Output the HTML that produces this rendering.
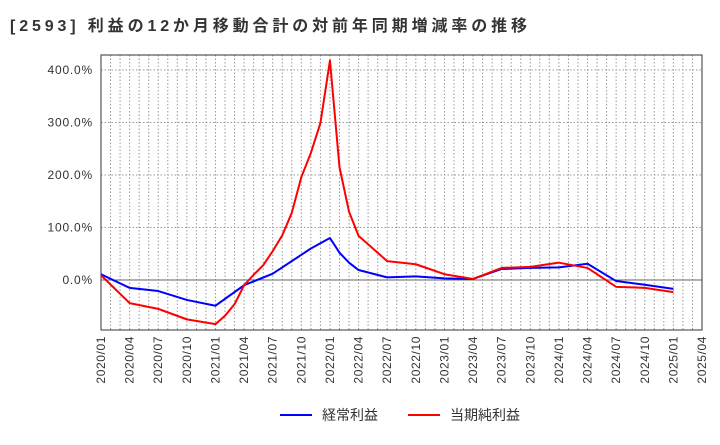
<!DOCTYPE html>
<html><head><meta charset="utf-8"><style>
body{margin:0;background:#fff;font-family:"Liberation Sans","Noto Sans CJK JP",sans-serif;}
svg text{font-family:"Liberation Sans","Noto Sans CJK JP",sans-serif;}
</style></head><body>
<svg id="chart" width="720" height="440" xmlns="http://www.w3.org/2000/svg">
<text x="10" y="31" font-size="16" font-weight="bold" fill="#333" textLength="517" lengthAdjust="spacing">[2593]  利益の12か月移動合計の対前年同期増減率の推移</text>
<g id="grid"></g><g id="axes"></g><g id="series"></g>
<g>
<line x1="280" y1="415" x2="312" y2="415" stroke="#0000ff" stroke-width="2"/>
<text x="322" y="420" font-size="14" fill="#333">経常利益</text>
<line x1="408" y1="415" x2="440" y2="415" stroke="#ff0000" stroke-width="2"/>
<text x="450" y="420" font-size="14" fill="#333">当期純利益</text>
</g>
</svg>
<script>
const xTickLabels=["2020/01","2020/04","2020/07","2020/10","2021/01","2021/04","2021/07","2021/10","2022/01","2022/04","2022/07","2022/10","2023/01","2023/04","2023/07","2023/10","2024/01","2024/04","2024/07","2024/10","2025/01","2025/04"];
const yTicks=[0,100,200,300,400];
const blueMonths=[0,3,6,9,12,15,18,21,22,23,24,25,26,27,30,33,36,39,42,45,48,51,54,57,60];
const blueValues=[11,-15,-21,-38,-49,-10,12,48,60,70,80,52,33,19,5,7,3,2,21,23,24,31,-2,-9,-17];
const redMonths=[0,3,6,9,12,13,14,15,16,17,18,19,20,21,22,23,24,25,26,27,30,33,36,39,42,45,48,51,54,57,60];
const redValues=[9,-44,-55,-75,-84,-68,-46,-10,10,28,55,85,128,196,242,299,418,215,130,84,36,30,11,2,23,25,33,23,-13,-15,-23];
const X0=101,X1=702,Y0=55,Y1=330;
const x=m=>X0+(X1-X0)*m/63;
const y=v=>280-v*0.525;
const NS="http://www.w3.org/2000/svg";
function mk(t,a,p){const e=document.createElementNS(NS,t);for(const k in a)e.setAttribute(k,a[k]);p.appendChild(e);return e;}
const grid=document.getElementById('grid'),axes=document.getElementById('axes'),ser=document.getElementById('series');
for(let m=1;m<63;m++){const l=mk('line',{x1:x(m),x2:x(m),y1:Y0,y2:Y1,stroke:'#999','stroke-dasharray':'1.5,2','stroke-width':1},grid);

}
yTicks.forEach(v=>{const l=mk('line',{x1:X0,x2:X1,y1:y(v),y2:y(v),stroke:v===0?'#666':'#999','stroke-dasharray':v===0?'none':'1.5,2','stroke-width':1},grid);


const t=mk('text',{x:X0-8,y:y(v)+4,'text-anchor':'end','font-size':12,'letter-spacing':0.8,fill:'#333'},axes);t.textContent=v.toFixed(1)+'%';

});
const fr=mk('rect',{x:X0,y:Y0,width:X1-X0,height:Y1-Y0,fill:'none',stroke:'#333','stroke-width':1},axes);


xTickLabels.forEach((s,i)=>{const xx=x(i*3);const t=mk('text',{x:0,y:0,'text-anchor':'end','font-size':12,'letter-spacing':0.6,fill:'#333',transform:`translate(${xx+4},${Y1+6}) rotate(-90)`},axes);t.textContent=s;

});
function line(ms,vs,c,name){const p=mk('polyline',{points:ms.map((m,i)=>x(m)+','+y(vs[i])).join(' '),fill:'none',stroke:c,'stroke-width':2,'stroke-linejoin':'round'},ser);

}
line(blueMonths,blueValues,'#0000ff','keijo-line');
line(redMonths,redValues,'#ff0000','junri-line');
</script>
</body></html>
